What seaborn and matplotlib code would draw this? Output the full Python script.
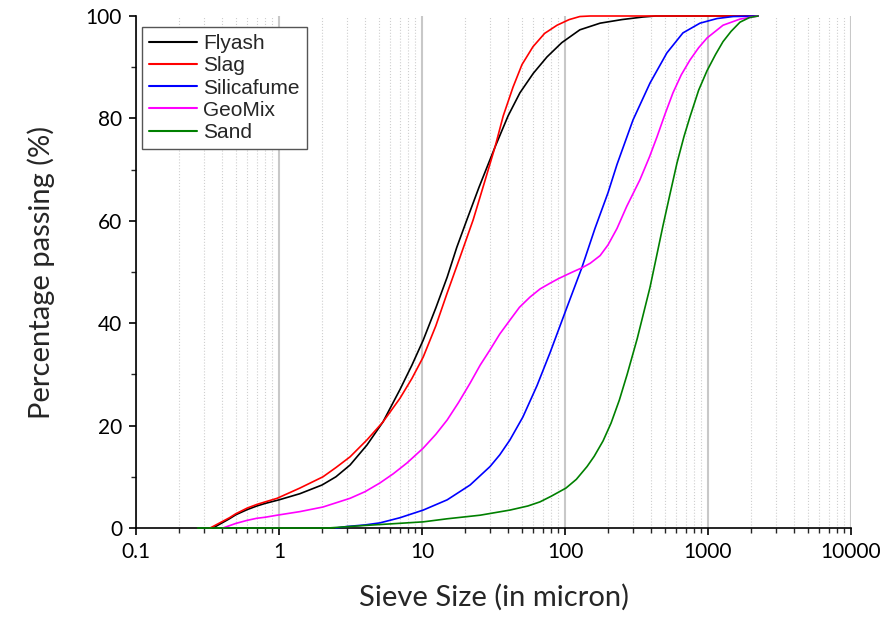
import pandas as pd
import numpy as np
import matplotlib
matplotlib.use("Agg")
import matplotlib.pyplot as plt
import seaborn as sns
from matplotlib.ticker import LogLocator, NullFormatter, MultipleLocator

# particle size distribution curves
flyash_x = [0.345, 0.45, 0.5, 0.6, 0.7, 0.8, 1.0, 1.4, 2.0, 2.5, 3.14, 4.12, 5.33, 7.0, 8.5, 10.2, 12.5, 15,
            17.5, 20.6, 25, 32.4, 40, 48.4, 60, 74.8, 95, 127, 176, 250, 350, 430, 2240]
flyash_y = [0, 1.8, 2.6, 3.6, 4.3, 4.8, 5.5, 6.7, 8.4, 10.0, 12.3, 16.2, 20.7, 27.0, 31.8, 36.7, 43.0, 49.0,
            54.8, 60.2, 66.5, 74.4, 80.5, 85.0, 88.8, 92.0, 94.8, 97.3, 98.6, 99.3, 99.8, 100, 100]

slag_x = [0.33, 0.45, 0.5, 0.6, 0.7, 0.8, 0.97, 1.4, 2.03, 2.5, 3.14, 4.12, 5.33, 7.0, 8.5, 10.2, 12.5, 15,
          18.5, 22.8, 27, 32.4, 37, 43.3, 50, 59.7, 72, 88, 107, 127, 150, 2240]
slag_y = [0, 2.0, 2.8, 3.9, 4.6, 5.1, 5.8, 7.8, 10.0, 11.8, 13.9, 17.2, 20.7, 25.3, 29.2, 33.4, 39.5, 45.9,
          53.0, 60.2, 67.0, 74.4, 80.5, 86.1, 90.5, 94.0, 96.6, 98.2, 99.3, 99.9, 100, 100]

silica_x = [2.5, 3.0, 4.0, 5.08, 7.0, 10.2, 15, 21.7, 29.9, 35, 41.2, 50.8, 63.7, 78.5, 101.6, 131, 162, 200,
            231, 299, 393, 516, 668, 879, 1156, 1500, 2240]
silica_y = [0, 0.3, 0.6, 1.0, 2.0, 3.5, 5.5, 8.4, 12.0, 14.3, 17.2, 21.7, 27.8, 34.2, 42.6, 50.8, 58.5, 65.5,
            71.0, 79.7, 86.9, 92.8, 96.7, 98.6, 99.5, 99.9, 100]

geomix_x = [0.405, 0.5, 0.6, 0.7, 0.8, 0.97, 1.4, 2.03, 3.14, 4.0, 5.08, 6.3, 7.85, 10.2, 12.5, 15, 18, 21.7,
            25.5, 29.9, 35, 41.2, 48, 56.9, 67, 78.5, 90, 101.6, 115, 131, 150, 176, 200, 231, 270, 334, 390,
            440, 500, 569, 650, 748, 860, 984, 1274, 1675, 2240]
geomix_y = [0, 0.9, 1.5, 1.9, 2.1, 2.5, 3.2, 4.1, 5.8, 7.1, 8.8, 10.6, 12.7, 15.6, 18.3, 21.1, 24.5, 28.3,
            31.8, 34.8, 37.9, 40.6, 43.1, 45.1, 46.7, 47.8, 48.7, 49.4, 50.1, 50.8, 51.7, 53.2, 55.3, 58.5,
            62.8, 68.0, 72.5, 76.4, 80.8, 85.0, 88.5, 91.4, 93.8, 95.7, 98.2, 99.4, 100]

sand_x = [0.27, 2.2, 4, 6, 10.2, 15, 25.5, 41.2, 55, 66.8, 80, 101.6, 120, 142.6, 160, 184.5, 210, 240, 272,
          320, 393, 440, 484, 540, 607, 680, 748, 860, 984, 1130, 1274, 1450, 1675, 1950, 2240]
sand_y = [0, 0, 0.5, 0.8, 1.2, 1.8, 2.5, 3.5, 4.3, 5.1, 6.2, 7.8, 9.5, 12.0, 14.0, 17.0, 20.5, 25.0, 30.0,
          37.0, 47.0, 53.5, 59.0, 65.0, 71.3, 76.5, 80.3, 85.5, 89.3, 92.5, 95.0, 97.0, 98.8, 99.7, 100]

materials = ["Flyash", "Slag", "Silicafume", "GeoMix", "Sand"]
colors = ["#000000", "#ff0000", "#0000ff", "#ff00ff", "#008000"]
xticks = [0.1, 1, 10, 100, 1000, 10000]
xtick_labels = ["0.1", "1", "10", "100", "1000", "10000"]

frames = []
for name, xs, ys in zip(materials,
                        [flyash_x, slag_x, silica_x, geomix_x, sand_x],
                        [flyash_y, slag_y, silica_y, geomix_y, sand_y]):
    frames.append(pd.DataFrame({"size": xs, "passing": ys, "material": name}))
df = pd.concat(frames, ignore_index=True)

sns.set_style("ticks")
plt.rcParams["font.family"] = ["Lato", "DejaVu Sans"]

fig = plt.figure(figsize=(8.88, 6.17), dpi=100)
ax = fig.add_axes([136 / 888, 89 / 617, 715 / 888, 512 / 617])

sns.lineplot(data=df, x="size", y="passing", hue="material", hue_order=materials,
             palette=dict(zip(materials, colors)), estimator=None, sort=False,
             linewidth=1.2, ax=ax)
for line in ax.lines:
    line.set_clip_on(False)
    line.set_zorder(3)
    line.set_solid_joinstyle("round")

ax.set_xscale("log")
ax.set_xlim(0.1, 10000)
ax.set_ylim(0, 100)
ax.set_xticks(xticks)
ax.set_xticklabels(xtick_labels)
ax.xaxis.set_minor_locator(LogLocator(base=10, subs=np.arange(2, 10)))
ax.xaxis.set_minor_formatter(NullFormatter())
ax.yaxis.set_major_locator(MultipleLocator(20))
ax.yaxis.set_minor_locator(MultipleLocator(10))

ax.grid(which="major", axis="x", color="#c8c8c8", linewidth=1.5, linestyle="-")
ax.grid(which="minor", axis="x", color="#cfcfcf", linewidth=0.8, linestyle=":")
ax.grid(False, axis="y", which="both")
ax.set_axisbelow(True)

sns.despine(ax=ax)
for sp in ["left", "bottom"]:
    ax.spines[sp].set_linewidth(1.2)
    ax.spines[sp].set_color("black")

ax.tick_params(which="major", direction="out", length=5, width=1.2, labelsize=15, pad=5, colors="black")
ax.tick_params(which="minor", direction="out", length=3.5, width=1.0)

ax.set_xlabel("Sieve Size (in micron)", fontsize=21, labelpad=16)
ax.set_ylabel("Percentage passing (%)", fontsize=21, labelpad=22)

handles, labels = ax.get_legend_handles_labels()
leg = ax.legend(handles, labels, loc="upper left", bbox_to_anchor=(0.0084, 0.9785),
                borderaxespad=0, frameon=True, fancybox=False, framealpha=1,
                edgecolor="#555555", prop={"family": "Liberation Sans", "size": 15},
                handlelength=2.3, handletextpad=0.3, labelspacing=0.15, borderpad=0.35)
leg.get_frame().set_linewidth(1.0)
for h in leg.get_lines():
    h.set_linewidth(1.5)

fig.savefig("out.png", dpi=100)
